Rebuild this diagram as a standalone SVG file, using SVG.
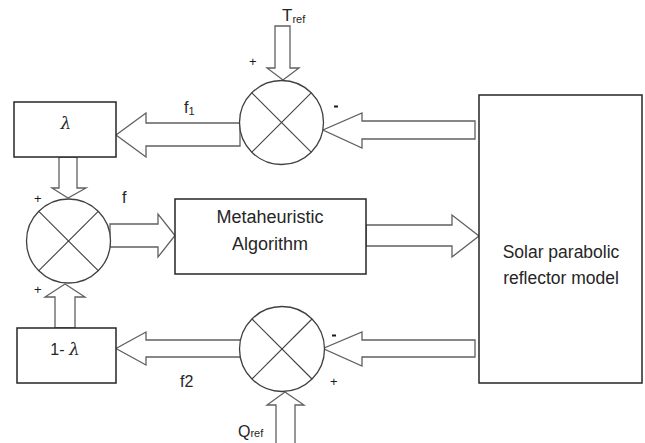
<svg xmlns="http://www.w3.org/2000/svg" width="645" height="443" viewBox="0 0 645 443">
<style>
.box{fill:#fff;stroke:#262626;stroke-width:1.5}
.arr{fill:#fff;stroke:#606060;stroke-width:1.3;stroke-linejoin:miter}
.sum{fill:#fff;stroke:#404040;stroke-width:1.3}
.x{stroke:#404040;stroke-width:1.1}
.t{font-family:"Liberation Sans",Arial,sans-serif;fill:#262626}
.lam{font-family:"DejaVu Serif","Liberation Serif",serif;font-style:italic;fill:#262626}
.sg{font-family:"Liberation Sans",Arial,sans-serif;fill:#1a1a1a;font-size:13px}
</style>
<rect width="645" height="443" fill="#fff"/>
<g id="connectors">
<polygon class="arr" points="275,26 275,68 267,68 283,80 299,68 290,68 290,26"/>
<polygon class="arr" points="240,123 146,123 146,113 116,135 146,157 146,146 240,146"/>
<polygon class="arr" points="475,121 362,121 362,113 323,130 362,148 362,139 475,139"/>
<polygon class="arr" points="59,157 59,188 52,188 68,198 86,188 77,188 77,157"/>
<polygon class="arr" points="110,224 158,224 158,214 175,235.5 158,257 158,247 110,247"/>
<polygon class="arr" points="366,225 452,225 452,215 479,236 452,257 452,246 366,246"/>
<polygon class="arr" points="55,328 55,297 45,297 65,284 85,297 75,297 75,328"/>
<polygon class="arr" points="475,340 362,340 362,332 323,348.5 362,366 362,357 475,357"/>
<polygon class="arr" points="241,340 146,340 146,332 116,348.5 146,365 146,357 241,357"/>
<polygon class="arr" points="276,446 276,405 267,405 285,392 304,405 295,405 295,446"/>
</g>
<g id="sum-top">
<circle class="sum" cx="281.5" cy="122.5" r="42"/>
<line class="x" x1="251.8" y1="92.8" x2="311.2" y2="152.2"/>
<line class="x" x1="311.2" y1="92.8" x2="251.8" y2="152.2"/>
</g>
<g id="sum-mid">
<circle class="sum" cx="68.5" cy="241" r="42"/>
<line class="x" x1="38.8" y1="211.3" x2="98.2" y2="270.7"/>
<line class="x" x1="98.2" y1="211.3" x2="38.8" y2="270.7"/>
</g>
<g id="sum-bot">
<circle class="sum" cx="282" cy="349" r="42.5"/>
<line class="x" x1="252" y1="319" x2="312" y2="379"/>
<line class="x" x1="312" y1="319" x2="252" y2="379"/>
</g>
<g id="lambda">
<rect class="box" x="14" y="102" width="102" height="55"/>
<text class="lam" x="66" y="129" font-size="17" text-anchor="middle">λ</text>
</g>
<g id="one-minus-lambda">
<rect class="box" x="17" y="328" width="99" height="55"/>
<text x="65" y="355" text-anchor="middle"><tspan class="t" font-size="16">1- </tspan><tspan class="lam" font-size="17">λ</tspan></text>
</g>
<g id="meta">
<rect class="box" x="175" y="199" width="191" height="75"/>
<text class="t" x="270" y="223" font-size="18" text-anchor="middle">Metaheuristic</text>
<text class="t" x="270" y="250" font-size="18" text-anchor="middle">Algorithm</text>
</g>
<g id="plant">
<rect class="box" x="479" y="95" width="163" height="288"/>
<text class="t" x="561" y="258" font-size="17.5" text-anchor="middle">Solar parabolic</text>
<text class="t" x="561" y="284" font-size="17.5" text-anchor="middle">reflector model</text>
</g>
<g id="labels">
<text class="t" x="282" y="21" font-size="17">T<tspan font-size="11" dy="2">ref</tspan></text>
<text class="t" x="238" y="437" font-size="16">Q<tspan font-size="11" dy="0">ref</tspan></text>
<text class="t" x="184" y="113" font-size="16">f<tspan font-size="11" dy="2">1</tspan></text>
<text class="t" x="180" y="387" font-size="16">f2</text>
<text class="t" x="122" y="203" font-size="16">f</text>
<text class="sg" x="249" y="66">+</text>
<text class="sg" x="34" y="203">+</text>
<text class="sg" x="34" y="294">+</text>
<text class="sg" x="330" y="386">+</text>
<rect x="334" y="105.5" width="4" height="2" fill="#1a1a1a"/>
<rect x="332" y="334.5" width="4" height="2" fill="#1a1a1a"/>
</g>
</svg>
